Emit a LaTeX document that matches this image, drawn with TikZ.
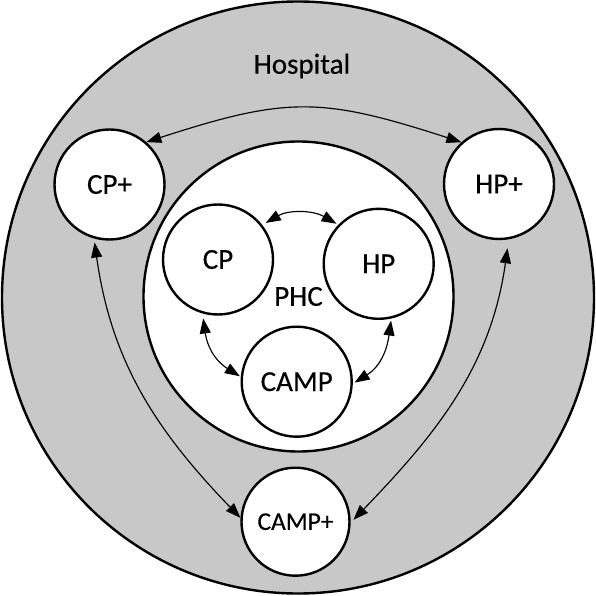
\documentclass[tikz,border=0pt]{standalone}
\usepackage{fontspec}
\setmainfont{Carlito}[UprightFeatures={FakeBold=0.35}]
\usetikzlibrary{arrows.meta}
\definecolor{hospgray}{RGB}{200,200,200}
\begin{document}
\begin{tikzpicture}[x=1pt,y=1pt,
  ring/.style={circle, draw=black, line width=2.4pt, inner sep=0pt},
  unit/.style={ring, fill=white, minimum size=110pt, font=\fontsize{29}{29}\selectfont},
  link/.style={{Triangle[length=15pt,width=11pt]}-{Triangle[length=15pt,width=11pt]}, line width=1.15pt}
]
\useasboundingbox (0,0) rectangle (596,595);
\node[ring, fill=hospgray, minimum size=592pt] (hosp) at (298,297.5) {};
\node[anchor=base, font=\fontsize{29}{29}\selectfont] (hlabel) at (302,521.3) {Hospital};
\node[ring, fill=white, minimum size=310pt, font=\fontsize{29}{29}\selectfont] (phc) at (298.5,298.5) {PHC};
\node[unit] (cpp) at (109.5,410.5) {CP+};
\node[unit] (hpp) at (499,411) {HP+};
\node[unit, minimum size=108pt, font=\fontsize{25.5}{25.5}\selectfont] (campp) at (295.5,73.3) {CAMP+};
\node[unit] (cp) at (218,335.5) {CP};
\node[unit] (hp) at (378.7,331.2) {HP};
\node[unit] (camp) at (296.7,213.3) {CAMP};
\draw[link] (cpp.49) to[out=18,in=162,looseness=1.2] (hpp.132.5);
\draw[link, shorten <=4pt, shorten >=2pt] (cp.38) to[bend left=30] (hp.136);
\draw[link, shorten <=5pt, shorten >=1pt] (cp.254) to[out=-82,in=148,looseness=1.1] (camp.175);
\draw[link, shorten <=2pt, shorten >=2pt] (hp.283) to[out=-98,in=32,looseness=1.1] (camp.-2);
\draw[link, shorten <=4pt] (cpp.254) to[out=-82,in=134] (campp.176.5);
\draw[link, shorten <=9pt, shorten >=4pt] (hpp.280) to[out=-98,in=46] (campp.-1.5);
\end{tikzpicture}
\end{document}
